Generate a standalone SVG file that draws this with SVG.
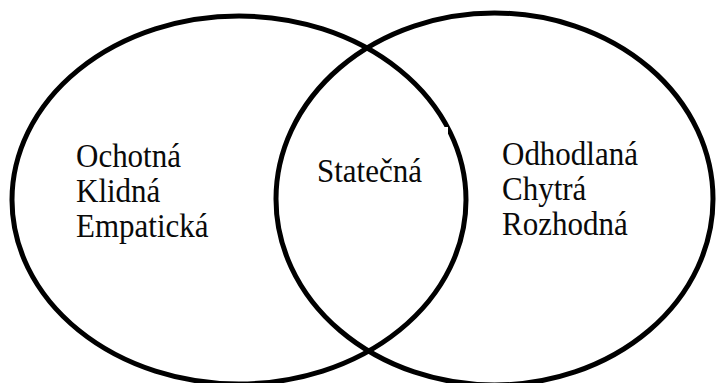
<svg xmlns="http://www.w3.org/2000/svg" width="716" height="383" viewBox="0 0 716 383">
<style>
.c{fill:none;stroke:#000;stroke-width:5}
.t{font-family:"Liberation Serif","Times New Roman",serif;font-size:31px;fill:#0a0a0a}
</style>
<rect width="716" height="383" fill="#fff"/>
<g id="connectors"></g>
<g id="left"><ellipse class="c" cx="239" cy="200" rx="227" ry="184"/></g>
<g id="right"><ellipse class="c" cx="494.5" cy="199" rx="218.5" ry="186"/></g>
<g id="center-bg"><rect x="297" y="127" width="151" height="66" fill="#fff"/></g>
<g id="left-text">
<text class="t" transform="translate(76,167) scale(1,1.08)">Ochotná</text>
<text class="t" transform="translate(76,202) scale(1,1.08)">Klidná</text>
<text class="t" transform="translate(76,237) scale(1,1.08)">Empatická</text>
</g>
<g id="center-text"><text class="t" transform="translate(317,182) scale(1,1.08)">Statečná</text></g>
<g id="right-text">
<text class="t" transform="translate(502,165) scale(1,1.08)">Odhodlaná</text>
<text class="t" transform="translate(502,200) scale(1,1.08)">Chytrá</text>
<text class="t" transform="translate(502,235) scale(1,1.08)">Rozhodná</text>
</g>
</svg>
